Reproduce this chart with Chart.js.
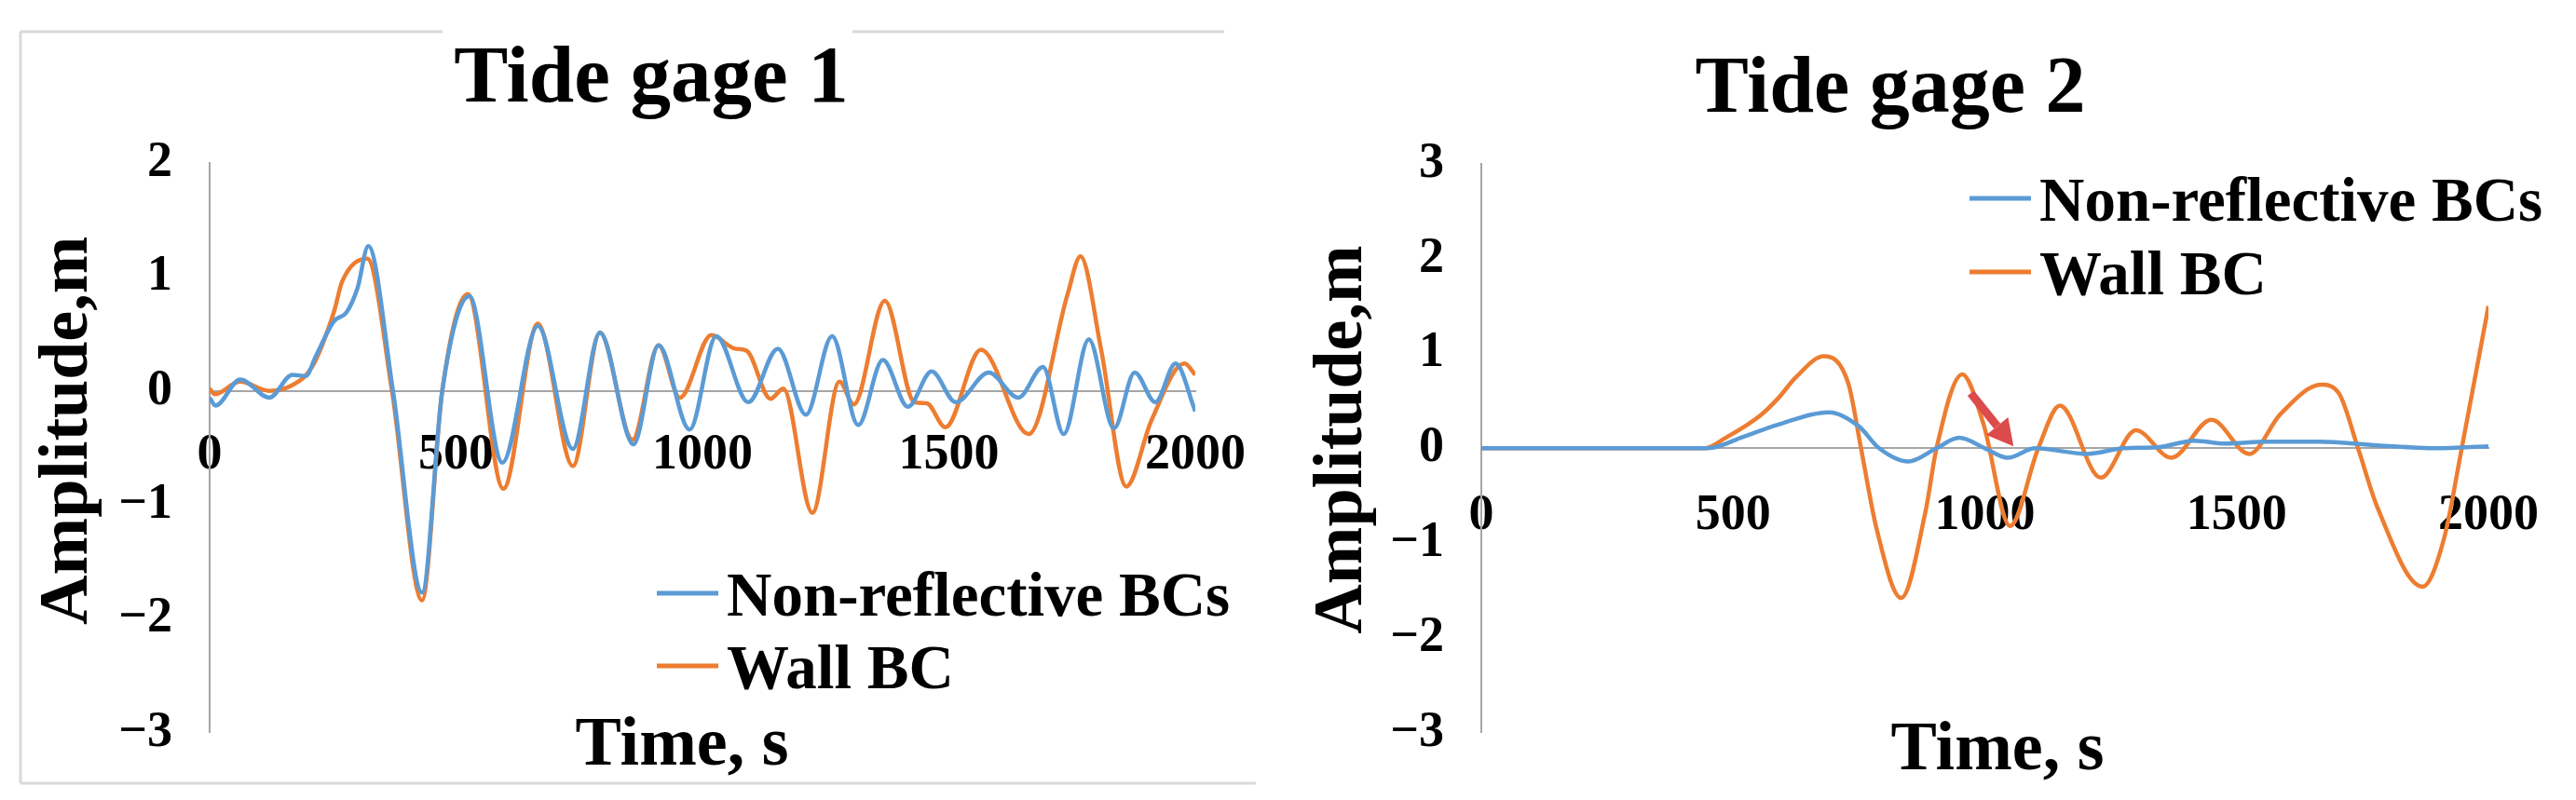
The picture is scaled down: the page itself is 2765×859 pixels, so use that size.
<!DOCTYPE html>
<html>
<head>
<meta charset="utf-8">
<title>Tide gages</title>
<script src="https://cdn.jsdelivr.net/npm/chart.js@4.4.1/dist/chart.umd.min.js"></script>
<style>
  html, body { margin: 0; padding: 0; background: #fff; }
  body { width: 2765px; height: 859px; position: relative; overflow: hidden; }
  canvas { position: absolute; top: 0; }
  #gage1 { left: 0; }
  #gage2 { left: 1293px; }
</style>
</head>
<body>
<canvas id="gage1" width="1398" height="859"></canvas>
<canvas id="gage2" width="1472" height="859"></canvas>
<script>
"use strict";

// ── Data ──────────────────────────────────────────────────────────────────────
const xTicks = [0, 500, 1000, 1500, 2000];

// Tide gage 1
const g1NonReflT = [0, 12, 62, 121, 168, 195, 215, 252, 278, 300, 322, 372, 431, 472, 527, 594, 666, 737, 792, 860,
                    911, 974, 1028, 1093, 1153, 1210, 1263, 1316, 1366, 1417, 1465, 1514, 1581, 1641, 1691, 1733,
                    1784, 1835, 1877, 1919, 1960, 2000];
const g1NonReflV = [-0.06, -0.13, 0.10, -0.06, 0.14, 0.13, 0.30, 0.61, 0.69, 0.90, 1.27, 0.00, -1.77, 0.00, 0.83,
                    -0.63, 0.57, -0.51, 0.51, -0.47, 0.40, -0.34, 0.48, -0.10, 0.37, -0.21, 0.48, -0.30, 0.27,
                    -0.14, 0.17, -0.10, 0.16, -0.06, 0.21, -0.38, 0.45, -0.33, 0.16, -0.10, 0.24, -0.18];
const g1WallT = [0, 10, 62, 121, 168, 208, 252, 269, 320, 370, 431, 472, 524, 596, 666, 737, 792, 858, 911, 954,
                 1018, 1066, 1090, 1138, 1164, 1223, 1278, 1307, 1370, 1430, 1455, 1493, 1565, 1662, 1741, 1767,
                 1809, 1860, 1911, 1978, 2000];
const g1WallV = [0.02, -0.03, 0.08, 0.00, 0.05, 0.21, 0.69, 0.96, 1.16, 0.00, -1.84, 0.00, 0.85, -0.86, 0.59,
                 -0.66, 0.51, -0.43, 0.40, -0.06, 0.49, 0.37, 0.35, -0.07, 0.02, -1.07, 0.08, -0.12, 0.79, -0.10,
                 -0.11, -0.32, 0.36, -0.38, 0.85, 1.18, 0.36, -0.84, -0.26, 0.24, 0.14];

// Tide gage 2
const g2NonReflT = [0, 200, 450, 520, 590, 691, 750, 790, 848, 904, 949, 1000, 1045, 1100, 1203, 1276, 1343, 1416,
                    1477, 1560, 1663, 1780, 1896, 2000];
const g2NonReflV = [0, 0, 0, 0.12, 0.25, 0.38, 0.23, 0, -0.14, 0, 0.11, 0, -0.10, 0, -0.06, 0.00, 0.01, 0.08,
                    0.05, 0.07, 0.07, 0.03, 0.00, 0.02];
const g2WallT = [0, 200, 443, 485, 555, 590, 625, 680, 729, 754, 785, 834, 882, 904, 955, 997, 1050, 1106, 1149,
                 1230, 1300, 1370, 1450, 1525, 1587, 1668, 1703, 1741, 1780, 1869, 1912, 1947, 2000];
const g2WallV = [0, 0, 0, 0.11, 0.35, 0.53, 0.75, 0.97, 0.68, 0, -0.85, -1.58, -0.67, 0, 0.78, 0.26, -0.82, 0,
                 0.45, -0.31, 0.19, -0.10, 0.30, -0.06, 0.36, 0.67, 0.58, 0, -0.63, -1.46, -0.95, 0, 1.50];

// red arrow on gage 2: [t, amplitude] tail -> tip
const g2ArrowFrom = [972, 0.58];
const g2ArrowTo   = [1057, 0.02];

// ── Look ──────────────────────────────────────────────────────────────────────
const SERIF  = '"Liberation Serif", "Times New Roman", serif';
const BLUE   = "#5B9BD5";
const ORANGE = "#ED7D31";
const AXIS   = "#a6a6a6";

Chart.defaults.color = "#000";
Chart.defaults.font.family = SERIF;

const zip = (ts, vs) => ts.map((t, i) => ({ x: t, y: vs[i] }));
const minus = v => (v < 0 ? "\u2212" + Math.abs(v) : String(v));

// extra drawing: frame, bottom axis title, legend, arrow
function extras(cfg) {
  return {
    id: "extras",
    beforeDraw(chart) {
      if (!cfg.frame) return;
      const ctx = chart.ctx;
      ctx.save();
      ctx.strokeStyle = "#d9d9d9";
      ctx.lineWidth = 3;
      cfg.frame.forEach(([x0, y0, x1, y1]) => {
        ctx.beginPath(); ctx.moveTo(x0, y0); ctx.lineTo(x1, y1); ctx.stroke();
      });
      ctx.restore();
    },
    afterDraw(chart) {
      const ctx = chart.ctx;
      ctx.save();
      ctx.fillStyle = "#000";
      ctx.textBaseline = "alphabetic";

      // "Time, s"
      ctx.font = `bold 74px ${SERIF}`;
      ctx.textAlign = "center";
      ctx.fillText("Time, s", cfg.xTitle[0], cfg.xTitle[1]);

      // legend
      ctx.font = `bold 67px ${SERIF}`;
      ctx.textAlign = "left";
      chart.data.datasets.forEach((ds, i) => {
        const y = cfg.legend.y + i * cfg.legend.gap;
        ctx.strokeStyle = ds.borderColor;
        ctx.lineWidth = 5;
        ctx.beginPath();
        ctx.moveTo(cfg.legend.x, y - 24);
        ctx.lineTo(cfg.legend.x + 66, y - 24);
        ctx.stroke();
        ctx.fillText(ds.label, cfg.legend.x + 75, y);
      });

      // arrow
      if (cfg.arrow) {
        const sx = chart.scales.x, sy = chart.scales.y;
        const x0 = sx.getPixelForValue(cfg.arrow[0][0]), y0 = sy.getPixelForValue(cfg.arrow[0][1]);
        const x1 = sx.getPixelForValue(cfg.arrow[1][0]), y1 = sy.getPixelForValue(cfg.arrow[1][1]);
        const ang = Math.atan2(y1 - y0, x1 - x0);
        const head = 28, half = 15;
        const bx = x1 - head * Math.cos(ang), by = y1 - head * Math.sin(ang);
        ctx.strokeStyle = ctx.fillStyle = "#dc4b4b";
        ctx.lineWidth = 9;
        ctx.beginPath(); ctx.moveTo(x0, y0); ctx.lineTo(bx, by); ctx.stroke();
        ctx.beginPath();
        ctx.moveTo(x1, y1);
        ctx.lineTo(bx + half * Math.sin(ang), by - half * Math.cos(ang));
        ctx.lineTo(bx - half * Math.sin(ang), by + half * Math.cos(ang));
        ctx.closePath();
        ctx.fill();
      }
      ctx.restore();
    },
  };
}

function gageChart(canvasId, o) {
  return new Chart(document.getElementById(canvasId), {
    type: "line",
    data: {
      datasets: [
        { label: "Non-reflective BCs", data: o.nonRefl, borderColor: BLUE,   borderWidth: 4.5 },
        { label: "Wall BC",            data: o.wall,    borderColor: ORANGE, borderWidth: 4.5 },
      ],
    },
    options: {
      responsive: false,
      animation: false,
      events: [],
      parsing: false,
      elements: {
        point: { radius: 0 },
        line:  { cubicInterpolationMode: "monotone", fill: false },
      },
      layout: { padding: o.padding },
      plugins: {
        legend:  { display: false },
        tooltip: { enabled: false },
        title: {
          display: true,
          text: o.title,
          color: "#000",
          font: { size: o.titleSize, weight: "bold", lineHeight: 1 },
          padding: o.titlePad,
        },
      },
      scales: {
        x: {
          type: "linear",
          position: { y: 0 },
          min: 0, max: 2000,
          afterBuildTicks: s => { s.ticks = xTicks.map(v => ({ value: v })); },
          afterFit: s => { s.height = 0; },
          grid:   { display: true, drawOnChartArea: false, drawTicks: false },
          border: { display: true, color: AXIS, width: 2 },
          ticks:  { padding: o.xTickPad, maxRotation: 0, autoSkip: false, callback: v => String(v),
                    font: { size: 54, weight: "bold" } },
        },
        y: {
          type: "linear",
          min: o.yMin, max: o.yMax,
          afterFit: s => { s.width = o.yWidth; },
          grid:   { display: true, drawOnChartArea: false, drawTicks: false },
          border: { display: true, color: AXIS, width: 2 },
          ticks:  { stepSize: 1, padding: 40, callback: minus,
                    font: { size: 54, weight: "bold" } },
          title: {
            display: true,
            text: o.yTitle,
            color: "#000",
            font: { size: 74, weight: "bold", lineHeight: 1 },
            padding: { top: o.yTitlePad, bottom: 0 },
          },
        },
      },
    },
    plugins: [extras(o.extras)],
  });
}

// ── Go ────────────────────────────────────────────────────────────────────────
// left padding is set so the fullSize title centres over the panel;
// leading spaces nudge the rotated axis title up a little, as in the figure
gageChart("gage1", {
  title: "Tide gage 1", titleSize: 87, titlePad: { top: 43.5, bottom: 44.5 },
  nonRefl: zip(g1NonReflT, g1NonReflV),
  wall:    zip(g1WallT, g1WallV),
  padding: { left: 115, right: 115, top: 0, bottom: 55 },
  yMin: -3, yMax: 2, yWidth: 110, yTitle: "  Amplitude,m", yTitlePad: -78, xTickPad: 37,
  extras: {
    frame: [[22, 34, 475, 34], [915, 34, 1314, 34], [22, 34, 22, 841], [22, 841, 1348, 841]],
    xTitle: [732, 821],
    legend: { x: 705, y: 661, gap: 78 },
  },
});

gageChart("gage2", {
  title: "Tide gage 2", titleSize: 86, titlePad: { top: 55, bottom: 35 },
  nonRefl: zip(g2NonReflT, g2NonReflV),
  wall:    zip(g2WallT, g2WallV),
  padding: { left: 78, right: 78, top: 0, bottom: 52 },
  yMin: -3, yMax: 3, yWidth: 219, yTitle: " Amplitude,m", yTitlePad: 34, xTickPad: 40,
  extras: {
    xTitle: [851, 826],
    legend: { x: 821, y: 237, gap: 79 },
    arrow: [g2ArrowFrom, g2ArrowTo],
  },
});
</script>
</body>
</html>
